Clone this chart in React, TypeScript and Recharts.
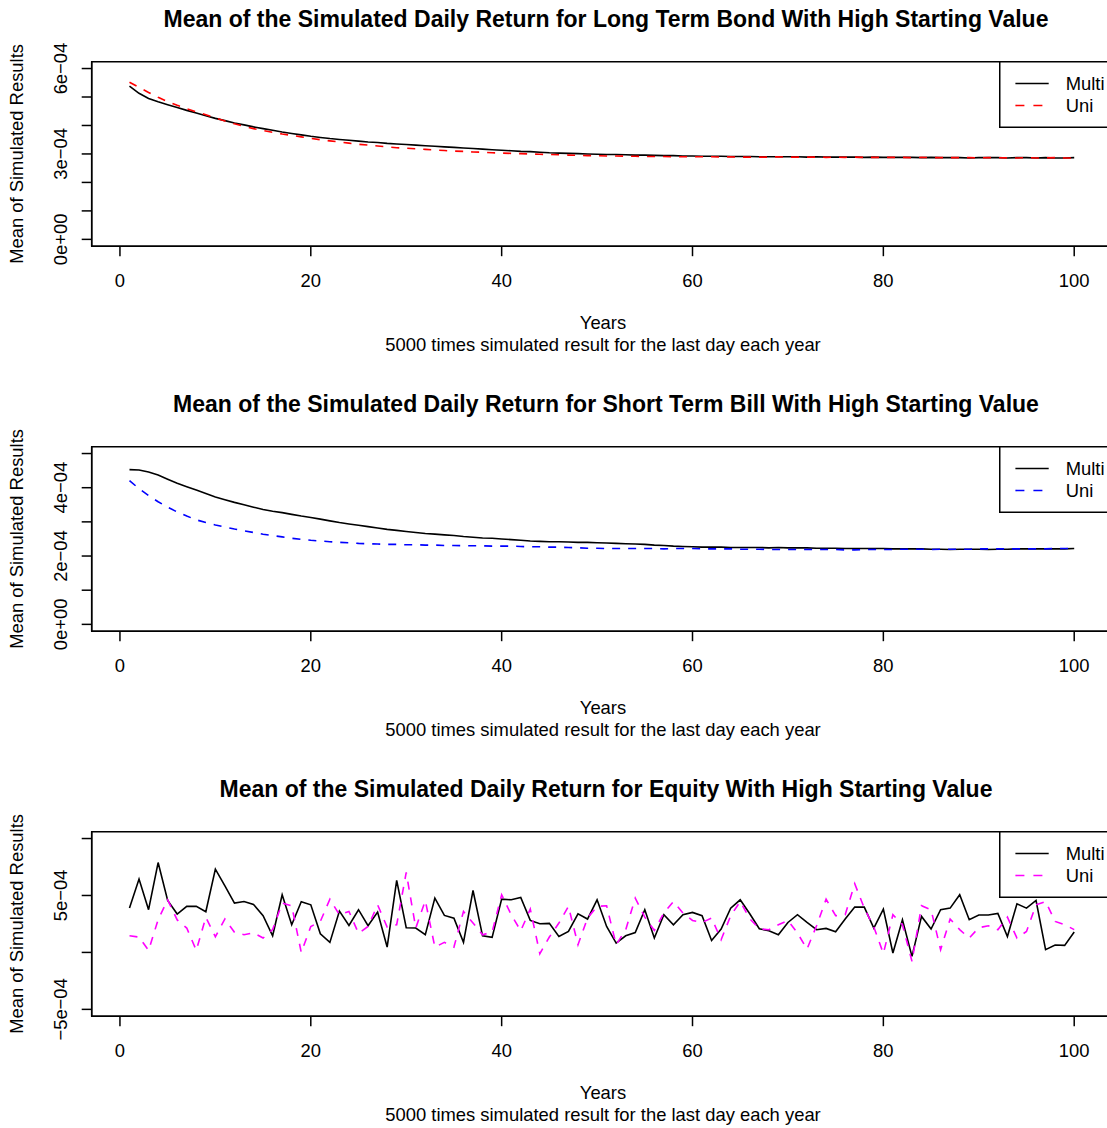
import React from 'react';
import { LineChart, Line, XAxis, YAxis, ReferenceArea, Legend } from 'recharts';

// ---------- data (values in units of 1e-4) ----------
const years: number[] = Array.from({ length: 100 }, (_, i) => i + 1);

const bondMulti = [
  5.38, 5.13, 4.95, 4.83, 4.73, 4.63, 4.53, 4.44, 4.34, 4.25,
  4.17, 4.09, 4.02, 3.95, 3.89, 3.83, 3.77, 3.72, 3.67, 3.62,
  3.58, 3.54, 3.51, 3.48, 3.45, 3.42, 3.40, 3.37, 3.35, 3.33,
  3.31, 3.29, 3.27, 3.25, 3.23, 3.21, 3.19, 3.17, 3.15, 3.13,
  3.11, 3.09, 3.08, 3.06, 3.04, 3.03, 3.02, 3.01, 3.00, 2.99,
  2.98, 2.98, 2.97, 2.96, 2.96, 2.95, 2.94, 2.94, 2.93, 2.93,
  2.92, 2.92, 2.92, 2.91, 2.91, 2.91, 2.90, 2.90, 2.90, 2.90,
  2.90, 2.89, 2.90, 2.89, 2.89, 2.89, 2.89, 2.88, 2.89, 2.88,
  2.88, 2.88, 2.88, 2.87, 2.88, 2.87, 2.87, 2.87, 2.86, 2.87,
  2.87, 2.87, 2.86, 2.87, 2.87, 2.86, 2.87, 2.86, 2.86, 2.87,
];
const bondUni = [
  5.52, 5.34, 5.16, 4.99, 4.84, 4.71, 4.59, 4.48, 4.38, 4.27,
  4.16, 4.06, 3.97, 3.89, 3.82, 3.76, 3.70, 3.65, 3.60, 3.55,
  3.50, 3.46, 3.42, 3.38, 3.34, 3.31, 3.28, 3.25, 3.22, 3.20,
  3.18, 3.16, 3.14, 3.12, 3.10, 3.09, 3.07, 3.06, 3.04, 3.03,
  3.02, 3.01, 3.00, 2.99, 2.98, 2.97, 2.96, 2.95, 2.94, 2.94,
  2.93, 2.93, 2.92, 2.92, 2.91, 2.91, 2.91, 2.90, 2.90, 2.90,
  2.90, 2.90, 2.89, 2.90, 2.89, 2.89, 2.89, 2.89, 2.90, 2.89,
  2.89, 2.89, 2.89, 2.88, 2.89, 2.88, 2.89, 2.88, 2.88, 2.88,
  2.88, 2.88, 2.87, 2.88, 2.87, 2.87, 2.87, 2.87, 2.87, 2.86,
  2.87, 2.87, 2.86, 2.86, 2.87, 2.86, 2.86, 2.87, 2.86, 2.86,
];
const billMulti = [
  4.53, 4.52, 4.46, 4.37, 4.25, 4.13, 4.03, 3.93, 3.83, 3.73,
  3.65, 3.57, 3.50, 3.43, 3.36, 3.31, 3.27, 3.22, 3.17, 3.13,
  3.08, 3.03, 2.98, 2.94, 2.90, 2.86, 2.82, 2.78, 2.75, 2.72,
  2.69, 2.66, 2.64, 2.62, 2.60, 2.57, 2.55, 2.53, 2.52, 2.50,
  2.48, 2.46, 2.44, 2.43, 2.42, 2.42, 2.41, 2.40, 2.40, 2.39,
  2.38, 2.37, 2.36, 2.35, 2.34, 2.32, 2.31, 2.29, 2.28, 2.27,
  2.26, 2.26, 2.26, 2.25, 2.25, 2.25, 2.25, 2.24, 2.25, 2.24,
  2.24, 2.24, 2.23, 2.23, 2.23, 2.22, 2.22, 2.22, 2.22, 2.22,
  2.21, 2.21, 2.21, 2.21, 2.20, 2.20, 2.19, 2.20, 2.20, 2.20,
  2.19, 2.20, 2.20, 2.21, 2.21, 2.21, 2.21, 2.21, 2.21, 2.22,
];
const billUni = [
  4.21, 3.97, 3.77, 3.59, 3.43, 3.29, 3.17, 3.06, 2.98, 2.91,
  2.85, 2.79, 2.74, 2.69, 2.64, 2.60, 2.56, 2.52, 2.49, 2.46,
  2.44, 2.42, 2.40, 2.39, 2.37, 2.36, 2.35, 2.34, 2.34, 2.33,
  2.33, 2.32, 2.32, 2.31, 2.31, 2.30, 2.30, 2.30, 2.29, 2.29,
  2.29, 2.28, 2.27, 2.27, 2.26, 2.26, 2.25, 2.24, 2.23, 2.23,
  2.22, 2.22, 2.22, 2.22, 2.22, 2.22, 2.21, 2.22, 2.22, 2.22,
  2.21, 2.21, 2.21, 2.21, 2.20, 2.20, 2.20, 2.19, 2.19, 2.19,
  2.19, 2.19, 2.19, 2.19, 2.19, 2.18, 2.18, 2.19, 2.19, 2.19,
  2.19, 2.20, 2.20, 2.20, 2.19, 2.20, 2.20, 2.20, 2.20, 2.21,
  2.21, 2.21, 2.21, 2.21, 2.21, 2.21, 2.21, 2.22, 2.22, 2.22,
];
const equityMulti = [
  3.89, 6.44, 3.75, 7.89, 4.56, 3.37, 4.04, 4.04, 3.57, 7.31,
  5.85, 4.33, 4.47, 4.21, 3.22, 1.46, 5.06, 2.43, 4.45, 4.18,
  1.64, 0.88, 3.63, 2.37, 3.75, 2.34, 3.54, 0.47, 6.32, 2.17,
  2.14, 1.55, 4.77, 3.25, 3.01, 0.88, 5.44, 1.46, 1.32, 4.68,
  4.62, 4.82, 2.81, 2.52, 2.55, 1.40, 1.84, 3.39, 2.93, 4.62,
  2.28, 0.82, 1.46, 1.75, 3.75, 1.26, 3.31, 2.43, 3.31, 3.51,
  3.22, 1.05, 2.05, 3.89, 4.62, 3.40, 2.08, 1.90, 1.55, 2.63,
  3.31, 2.63, 1.99, 2.11, 1.81, 2.93, 3.98, 3.98, 2.14, 3.81,
  -0.05, 2.87, -0.35, 3.16, 2.05, 3.75, 3.89, 5.06, 2.87, 3.28,
  3.28, 3.42, 1.40, 4.27, 3.89, 4.56, 0.24, 0.65, 0.62, 1.79,
];
const equityUni = [
  1.46, 1.35, 0.18, 2.87, 4.62, 2.85, 2.14, 0.18, 3.08, 1.38,
  2.94, 1.77, 1.55, 1.73, 1.26, 2.00, 4.33, 4.10, 0.00, 2.28,
  2.72, 4.68, 3.30, 3.60, 1.67, 2.28, 4.18, 2.23, 2.43, 7.02,
  2.14, 4.55, 0.47, 0.88, 0.47, 3.60, 2.58, 1.55, 1.79, 5.06,
  3.31, 1.90, 3.80, -0.11, 1.35, 2.58, 4.04, 0.68, 3.02, 4.04,
  4.10, 0.68, 1.99, 4.77, 3.10, 1.93, 3.46, 4.47, 3.46, 2.81,
  2.63, 3.02, 1.11, 3.22, 4.47, 2.95, 2.08, 1.99, 2.43, 2.81,
  1.70, 0.30, 2.34, 4.68, 3.22, 3.31, 6.03, 3.89, 2.23, -0.10,
  3.31, 2.43, -0.79, 4.10, 3.75, 0.24, 2.93, 2.00, 1.26, 2.17,
  2.34, 1.99, 3.10, 1.26, 1.84, 4.18, 4.47, 2.72, 2.43, 2.00,
];

const xTicks = [0, 20, 40, 60, 80, 100];
const seriesNames = ['Multi', 'Uni'];

const bondYTicks = [0, 1e-4, 2e-4, 3e-4, 4e-4, 5e-4, 6e-4];
const bondYLabels = ['0e+00', '', '', '3e\u221204', '', '', '6e\u221204'];
const billYTicks = [0, 1e-4, 2e-4, 3e-4, 4e-4, 5e-4];
const billYLabels = ['0e+00', '', '2e\u221204', '', '4e\u221204', ''];
const eqYTicks = [-5e-4, 0, 5e-4, 1e-3];
const eqYLabels = ['\u22125e\u221204', '', '5e\u221204', ''];

const titles = [
  'Mean of the Simulated Daily Return for Long Term Bond With High Starting Value',
  'Mean of the Simulated Daily Return for Short Term Bill With High Starting Value',
  'Mean of the Simulated Daily Return for Equity With High Starting Value',
];
const xLabel = 'Years';
const subLabel = '5000 times simulated result for the last day each year';
const yLabel = 'Mean of Simulated Results';

// ---------- layout ----------
const FONT = '"Liberation Sans", Arial, Helvetica, sans-serif';
const PAGE_W = 1107;
const PAGE_H = 1128;
const CHART_W = 1120;
const PANEL_H = 385;
const BOX_LEFT = 91.7;
const BOX_TOP = 61.7;
const BOX_BOTTOM = 246.2;
const X_DOMAIN: [number, number] = [-2.96, 103.96];
const BASE_FS = 18.4;
const TITLE_FS = 23;

const buildTable = (multi: number[], uni: number[]) =>
  years.map((year, i) => ({ year, multi: multi[i] * 1e-4, uni: uni[i] * 1e-4 }));

type PanelProps = {
  title: string;
  multi: number[];
  uni: number[];
  uniColor: string;
  yDomain: [number, number];
  yTicks: number[];
  yLabels: string[];
};

function LegendBox({ uniColor }: { uniColor: string }) {
  const w = 113;
  const h = 66;
  return (
    <svg width={w + 2} height={h + 2} style={{ display: 'block', overflow: 'visible' }}>
      <rect x={0.75} y={0.75} width={w} height={h - 0.5} fill="#fff" stroke="#000" strokeWidth={1.5} />
      {seriesNames.map((name, i) => {
        const cy = 22.5 + i * 22;
        return (
          <g key={name}>
            <line
              x1={16.4}
              x2={49.7}
              y1={cy}
              y2={cy}
              stroke={i === 0 ? '#000' : uniColor}
              strokeWidth={1.6}
              strokeDasharray={i === 0 ? undefined : '9 9'}
            />
            <text x={66.7} y={cy + 6.6} fontSize={BASE_FS} fontFamily={FONT} fill="#000">
              {name}
            </text>
          </g>
        );
      })}
    </svg>
  );
}

function Panel({ title, multi, uni, uniColor, yDomain, yTicks, yLabels }: PanelProps) {
  const data = buildTable(multi, uni);
  const boxMidY = (BOX_TOP + BOX_BOTTOM) / 2;
  const XTick = (props: any) => {
    const { x, y, payload } = props;
    return (
      <text x={x} y={y + 30.5} textAnchor="middle" fontSize={BASE_FS} fontFamily={FONT} fill="#000">
        {payload.value}
      </text>
    );
  };
  const YTick = (props: any) => {
    const { x, y, index } = props;
    const bx = x - 15;
    const label = yLabels[index] ?? '';
    if (!label) return <g />;
    return (
      <text
        x={bx}
        y={y}
        transform={`rotate(-90 ${bx} ${y})`}
        textAnchor="middle"
        fontSize={BASE_FS}
        fontFamily={FONT}
        fill="#000"
      >
        {label}
      </text>
    );
  };
  return (
    <div style={{ position: 'relative', width: CHART_W, height: PANEL_H }}>
      <LineChart
        width={CHART_W}
        height={PANEL_H}
        data={data}
        margin={{ top: BOX_TOP, right: CHART_W - 1112, bottom: 0, left: 0 }}
      >
        <XAxis
          dataKey="year"
          type="number"
          domain={X_DOMAIN}
          ticks={xTicks}
          interval={0}
          allowDataOverflow
          height={PANEL_H - BOX_BOTTOM}
          tickSize={10}
          tickMargin={0}
          axisLine={{ stroke: '#000', strokeWidth: 1.5 }}
          tickLine={{ stroke: '#000', strokeWidth: 1.5 }}
          tick={XTick}
        />
        <YAxis
          type="number"
          domain={yDomain}
          ticks={yTicks}
          interval={0}
          allowDataOverflow
          width={BOX_LEFT}
          tickSize={10}
          tickMargin={0}
          axisLine={{ stroke: '#000', strokeWidth: 1.5 }}
          tickLine={{ stroke: '#000', strokeWidth: 1.5 }}
          tick={YTick}
        />
        <ReferenceArea
          x1={X_DOMAIN[0]}
          x2={X_DOMAIN[1]}
          y1={yDomain[0]}
          y2={yDomain[1]}
          fill="none"
          fillOpacity={0}
          stroke="#000"
          strokeWidth={1.5}
          ifOverflow="visible"
        />
        <Line
          type="linear"
          dataKey="multi"
          name={seriesNames[0]}
          stroke="#000"
          strokeWidth={1.6}
          dot={false}
          activeDot={false}
          isAnimationActive={false}
        />
        <Line
          type="linear"
          dataKey="uni"
          name={seriesNames[1]}
          stroke={uniColor}
          strokeWidth={1.6}
          strokeDasharray="8 8"
          dot={false}
          activeDot={false}
          isAnimationActive={false}
        />
        <Legend
          layout="horizontal"
          verticalAlign="middle"
          align="center"
          wrapperStyle={{ position: 'absolute', left: 999.3, top: BOX_TOP - 0.75, width: 116, height: 68 }}
          content={() => <LegendBox uniColor={uniColor} />}
        />
      </LineChart>
      <svg
        width={CHART_W}
        height={PANEL_H}
        style={{ position: 'absolute', left: 0, top: 0, pointerEvents: 'none' }}
      >
        <text x={606} y={26.5} textAnchor="middle" fontSize={TITLE_FS} fontWeight="bold" fontFamily={FONT} fill="#000">
          {title}
        </text>
        <text x={603} y={329.3} textAnchor="middle" fontSize={BASE_FS} fontFamily={FONT} fill="#000">
          {xLabel}
        </text>
        <text x={603} y={350.5} textAnchor="middle" fontSize={BASE_FS} fontFamily={FONT} fill="#000">
          {subLabel}
        </text>
        <text
          x={23.3}
          y={boxMidY}
          transform={`rotate(-90 23.3 ${boxMidY})`}
          textAnchor="middle"
          fontSize={BASE_FS}
          fontFamily={FONT}
          fill="#000"
        >
          {yLabel}
        </text>
      </svg>
    </div>
  );
}

export default function App() {
  return (
    <div
      style={{
        position: 'absolute',
        left: 0,
        top: 0,
        width: PAGE_W,
        height: PAGE_H,
        overflow: 'hidden',
        background: '#fff',
      }}
    >
      <Panel
        title={titles[0]}
        multi={bondMulti}
        uni={bondUni}
        uniColor="#FF0000"
        yDomain={[-0.24e-4, 6.24e-4]}
        yTicks={bondYTicks}
        yLabels={bondYLabels}
      />
      <Panel
        title={titles[1]}
        multi={billMulti}
        uni={billUni}
        uniColor="#0000FF"
        yDomain={[-0.2e-4, 5.2e-4]}
        yTicks={billYTicks}
        yLabels={billYLabels}
      />
      <Panel
        title={titles[2]}
        multi={equityMulti}
        uni={equityUni}
        uniColor="#FF00FF"
        yDomain={[-5.6e-4, 10.6e-4]}
        yTicks={eqYTicks}
        yLabels={eqYLabels}
      />
    </div>
  );
}
